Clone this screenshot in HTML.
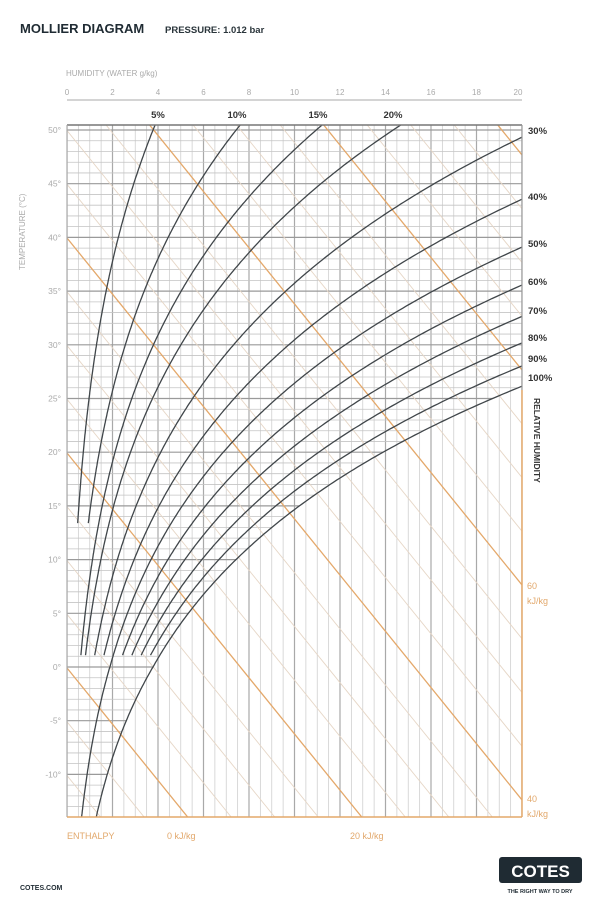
<!DOCTYPE html>
<html style="margin:0;width:600px;height:907px;overflow:hidden"><head><meta charset="utf-8"><style>
body{margin:0;background:#fff;width:600px;height:907px;overflow:hidden;position:relative;font-family:"Liberation Sans",sans-serif}
svg{position:absolute;left:0;top:0;display:block}
</style></head><body>
<svg id="s" width="600" height="907" viewBox="0 0 600 907" xmlns="http://www.w3.org/2000/svg">
<defs>
<clipPath id="box"><rect x="67" y="125" width="455" height="692"/></clipPath>
<clipPath id="sat"><path id="satpath" d=""/></clipPath>
</defs>
<g id="grid"></g>
<g font-family="Liberation Sans, sans-serif">
<text x="20" y="33" font-size="13" font-weight="bold" fill="#1f2b33">MOLLIER DIAGRAM</text>
<text x="165" y="33" font-size="9.5" font-weight="bold" fill="#2a353b">PRESSURE: 1.012 bar</text>
<text x="66" y="76" font-size="8" fill="#aaa">HUMIDITY (WATER g/kg)</text>
<g font-size="8" fill="#aaa" text-anchor="middle" id="toplab"></g>
<g font-size="9.5" font-weight="bold" fill="#333" text-anchor="middle">
<text x="158" y="118">5%</text><text x="237" y="118">10%</text><text x="318" y="118">15%</text><text x="393" y="118">20%</text>
</g>
<g font-size="9.5" font-weight="bold" fill="#333">
<text x="528" y="134">30%</text><text x="528" y="200">40%</text><text x="528" y="247">50%</text><text x="528" y="285">60%</text><text x="528" y="314">70%</text><text x="528" y="341">80%</text><text x="528" y="362">90%</text><text x="528" y="381">100%</text>
</g>
<text transform="translate(534,398) rotate(90)" font-size="8.5" font-weight="bold" fill="#333">RELATIVE HUMIDITY</text>
<text transform="translate(25,270) rotate(-90)" font-size="8" fill="#aaa">TEMPERATURE (°C)</text>
<g font-size="8.5" fill="#aaa" text-anchor="end" id="leftlab"></g>
<g font-size="9" fill="#e2a86c">
<text x="67" y="839">ENTHALPY</text><text x="167" y="839">0 kJ/kg</text><text x="350" y="839">20 kJ/kg</text>
<text x="527" y="589">60</text><text x="527" y="604">kJ/kg</text>
<text x="527" y="802">40</text><text x="527" y="817">kJ/kg</text>
</g>
<text x="20" y="890" font-size="7" font-weight="bold" fill="#1f2b33">COTES.COM</text>
<rect x="499" y="857" width="83" height="26" rx="3" fill="#1f2b33"/>
<text x="540.5" y="877" font-size="17" font-weight="bold" fill="#fff" text-anchor="middle">COTES</text>
<text x="540" y="893" font-size="5.5" font-weight="bold" fill="#1f2b33" text-anchor="middle">THE RIGHT WAY TO DRY</text>
</g>
</svg>
<script>
var NS="http://www.w3.org/2000/svg",g=document.getElementById('grid');
function el(n,a,p){var e=document.createElementNS(NS,n);for(var k in a)e.setAttribute(k,a[k]);(p||g).appendChild(e);return e;}
function X(w){return 67+22.75*w;}function Y(t){return 667-10.74*t;}
function ps(t,rh){var c=Math.min(0.13,0.45*Math.max(rh-0.03,0));return 6.112*Math.exp(17.62*t/(243.12+t))*(1-c*Math.max(t,0)/50);}
function W(rh,t){var p=rh*ps(t,rh);return 622*p/(1012-p);}
var T0=-14,T1=50.4;
var d="M67,125 ";for(var t=T1;t>=T0;t-=0.2){var xx=Math.min(X(W(1,t)),530);d+="L"+xx.toFixed(1)+","+Y(t).toFixed(1)+" ";}
d+="L67,817Z";document.getElementById('satpath').setAttribute('d',d);
var box=el('g',{'clip-path':'url(#box)'});
for(var i=0;i<=40;i++){var x=X(i*0.5);var maj=i%4==0;el('line',{x1:x,y1:125,x2:x,y2:817,stroke:maj?'#a9a9a9':'#cfcfcf','stroke-width':maj?1.2:0.8},box);}
var hg=el('g',{'clip-path':'url(#sat)'},box);
for(var t=-14;t<=50;t++){var y=Y(t);var maj=t%5==0;el('line',{x1:67,y1:y,x2:522,y2:y,stroke:maj?'#9a9a9a':'#c4c4c4','stroke-width':maj?1.2:0.8},hg);}
var s=1.235;
for(var k=-3;k<=22;k++){var y0=668-k*53.75;var maj=(k%4==0);
 var xa=67,ya=y0; if(ya<125){xa=67+(125-y0)/s;ya=125;}
 var xb=522,yb=y0+s*455; if(yb>817){xb=67+(817-y0)/s;yb=817;}
 if(xa>=522||xb<=67||xb<=xa)continue;
 el('line',{x1:xa,y1:ya,x2:xb,y2:yb,stroke:maj?'#e4a86a':'#e6d6c6','stroke-width':maj?1.3:0.9},box);}
var rhs=[[.05,13.4],[.1,13.4],[.15,1.1],[.2,1.1],[.3,1.1],[.4,1.1],[.5,-14],[.6,1.1],[.7,1.1],[.8,1.1],[.9,1.1],[1,-14]];
rhs.forEach(function(r){var d="";var f=true;for(var t=r[1];t<=51;t+=0.2){var x=X(W(r[0],t)),y=Y(t);d+=(f?"M":"L")+x.toFixed(1)+","+y.toFixed(1)+" ";f=false;if(x>524||y<123)break;}
el('path',{d:d,fill:'none',stroke:'#40464a','stroke-width':1.3},box);});
el('line',{x1:67,y1:125,x2:522,y2:125,stroke:'#777','stroke-width':1.5});
el('line',{x1:67,y1:125,x2:67,y2:817,stroke:'#aaa','stroke-width':1.2});
el('line',{x1:522,y1:125,x2:522,y2:390,stroke:'#999','stroke-width':1.2});
el('line',{x1:522,y1:390,x2:522,y2:817,stroke:'#e4a86a','stroke-width':1.5});
el('line',{x1:67,y1:817,x2:522,y2:817,stroke:'#e4a86a','stroke-width':1.5});
el('line',{x1:67,y1:100,x2:522,y2:100,stroke:'#aaa','stroke-width':1});
var tl=document.getElementById('toplab');for(var i=0;i<=20;i+=2){var e=el('text',{x:X(i)+(i==20?-4:0),y:95},tl);e.textContent=i;}
var ll=document.getElementById('leftlab');for(var t=-10;t<=50;t+=5){var e=el('text',{x:61,y:Y(t)+3},ll);e.textContent=t+"°";}
</script>
</body></html>
